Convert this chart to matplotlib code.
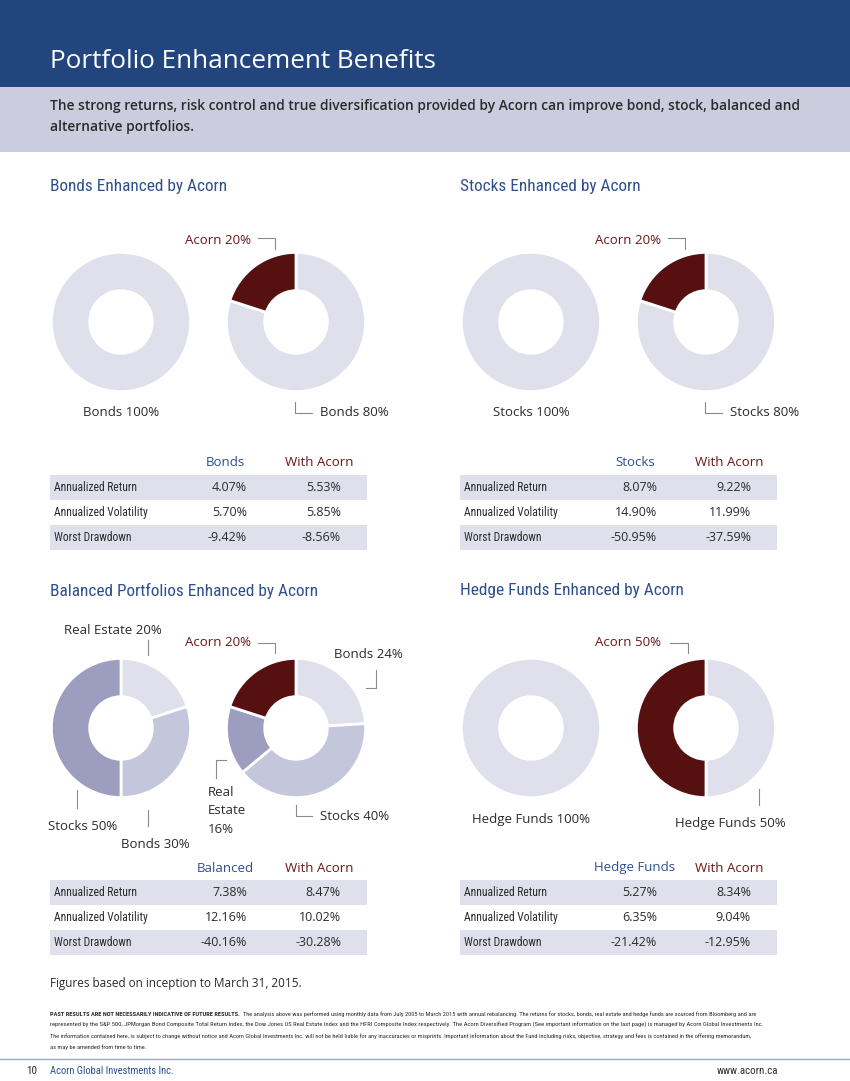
import os

import matplotlib
matplotlib.use("Agg")
import matplotlib.pyplot as plt
from matplotlib.lines import Line2D
from matplotlib.patches import Rectangle
from matplotlib import font_manager

W, H = 850, 1081

# ---- data ----
bonds_base = [100]
bonds_mix = [80, 20]            # Bonds, Acorn (clockwise from 12 o'clock)
stocks_base = [100]
stocks_mix = [80, 20]           # Stocks, Acorn
balanced_base = [20, 30, 50]    # Real Estate, Bonds, Stocks
balanced_mix = [24, 40, 16, 20]  # Bonds, Stocks, Real Estate, Acorn
hedge_base = [100]
hedge_mix = [50, 50]            # Hedge Funds, Acorn

metrics = ["Annualized Return", "Annualized Volatility", "Worst Drawdown"]
bonds_stats = [4.07, 5.70, -9.42]
bonds_acorn_stats = [5.53, 5.85, -8.56]
stocks_stats = [8.07, 14.90, -50.95]
stocks_acorn_stats = [9.22, 11.99, -37.59]
balanced_stats = [7.38, 12.16, -40.16]
balanced_acorn_stats = [8.47, 10.02, -30.28]
hedge_stats = [5.27, 6.35, -21.42]
hedge_acorn_stats = [8.34, 9.04, -12.95]

# ---- style ----
NAVY = "#21457c"
BAND = "#cbcdde"
BLUE = "#2e4f8e"
MAROON = "#55100f"
MAROON_TXT = "#6a1616"
LIGHT = "#dfe0ec"
MID = "#c4c6dc"
DARK = "#9d9ebf"
TEXT = "#2b2b2b"
LEAD = "#8a8a8a"

names = {f.name for f in font_manager.fontManager.ttflist}
SANS = "Open Sans" if "Open Sans" in names else "DejaVu Sans"
plt.rcParams["font.family"] = [SANS, "DejaVu Sans"]


def _wnum(w):
    if isinstance(w, str):
        return {"normal": 400, "regular": 400, "book": 400, "medium": 500,
                "semibold": 600, "demibold": 600, "bold": 700}.get(w.lower(), 400)
    return w


def narrow_font(weight=400):
    # look for a condensed face; the headings in the reference are condensed
    tests = [
        lambda f, b: f.name == "Liberation Sans Narrow",
        lambda f, b: "Roboto" in f.name and "Condensed" in b,
        lambda f, b: "OpenSans" in b and "Condensed" in b,
        lambda f, b: "NotoSans" in b and "Condensed" in b and "Extra" not in b and "Semi" not in b,
        lambda f, b: "DejaVuSansCondensed" in b,
    ]
    fonts = font_manager.fontManager.ttflist
    for t in tests:
        cands = [f for f in fonts if f.style == "normal" and t(f, os.path.basename(f.fname))]
        if cands:
            best = min(cands, key=lambda f: abs(_wnum(f.weight) - weight))
            return best.fname
    return None


NARROW = narrow_font(400)
NARROW_B = narrow_font(700)

fig = plt.figure(figsize=(W / 100, H / 100), dpi=100)


def fx(x):
    return x / W


def fy(y):
    return 1 - y / H


def text(x, y, s, narrow=False, bold=False, **kw):
    kw.setdefault("va", "center")
    kw.setdefault("color", TEXT)
    if narrow:
        fname = NARROW_B if bold else NARROW
        size = kw.pop("fontsize", 10)
        if fname:
            kw["fontproperties"] = font_manager.FontProperties(fname=fname, size=size)
        else:
            kw["fontsize"] = size * 0.85
            if bold:
                kw["fontweight"] = "bold"
    return fig.text(fx(x), fy(y), s, **kw)


def lead(xs, ys):
    fig.add_artist(Line2D([fx(v) for v in xs], [fy(v) for v in ys],
                          color=LEAD, lw=0.8, transform=fig.transFigure))


def rect(x, y, w, h, color):
    fig.add_artist(Rectangle((fx(x), fy(y + h)), w / W, h / H,
                             transform=fig.transFigure, color=color, lw=0))


def donut(cx, cy, values, colors, r=71):
    ax = fig.add_axes([fx(cx - r), fy(cy + r), 2 * r / W, 2 * r / H])
    ax.pie(values, colors=colors, startangle=90, counterclock=False, radius=1,
           wedgeprops=dict(width=0.55, edgecolor="white", linewidth=2))
    ax.set_xlim(-1.02, 1.02)
    ax.set_ylim(-1.02, 1.02)
    ax.set_aspect("equal")
    ax.axis("off")


def table(x0, ytop, head1, col1, col2):
    text(x0 + 175, ytop - 12, head1, ha="center", color=BLUE, fontsize=9.5)
    text(x0 + 269, ytop - 12, "With Acorn", ha="center", color=MAROON_TXT, fontsize=9.5)
    for i, (m, a, b) in enumerate(zip(metrics, col1, col2)):
        y = ytop + 25 * i
        if i % 2 == 0:
            rect(x0, y, 317, 25, LIGHT)
        text(x0 + 4, y + 12.5, m, narrow=True, fontsize=8.4)
        text(x0 + 197, y + 12.5, f"{a:.2f}%", ha="right", fontsize=9)
        text(x0 + 291, y + 12.5, f"{b:.2f}%", ha="right", fontsize=9)


def fit_width(t, target_px, renderer):
    # shrink / grow a text so that it spans target_px pixels
    w = t.get_window_extent(renderer).width
    t.set_fontsize(t.get_fontsize() * target_px / w)


# ---- header ----
rect(0, 0, W, 87, NAVY)
rect(0, 87, W, 65, BAND)
text(50, 62, "Portfolio Enhancement Benefits", color="white", fontsize=18.8)
text(50, 106, "The strong returns, risk control and true diversification provided by Acorn "
     "can improve bond, stock, balanced and", fontsize=9.9, fontweight="semibold")
text(50, 127, "alternative portfolios.", fontsize=9.9, fontweight="semibold")

# ---- top row ----
for x0, title, name, base, mix, s1, s2 in [
        (50, "Bonds Enhanced by Acorn", "Bonds", bonds_base, bonds_mix,
         bonds_stats, bonds_acorn_stats),
        (460, "Stocks Enhanced by Acorn", "Stocks", stocks_base, stocks_mix,
         stocks_stats, stocks_acorn_stats)]:
    text(x0, 187, title, narrow=True, color=BLUE, fontsize=12.4)
    cy = 322
    c1, c2 = x0 + 71, x0 + 246
    donut(c1, cy, base, [LIGHT])
    donut(c2, cy, mix, [LIGHT, MAROON])
    text(c1, cy + 90, f"{name} {base[0]}%", ha="center", fontsize=9.5)
    text(c2 - 45, cy - 81, f"Acorn {mix[1]}%", ha="right", color=MAROON_TXT, fontsize=9.5)
    lead([c2 - 38, c2 - 21, c2 - 21], [cy - 84, cy - 84, cy - 73])
    text(c2 + 24, cy + 90, f"{name} {mix[0]}%", fontsize=9.5)
    lead([c2 - 1, c2 - 1, c2 + 16], [cy + 80, cy + 91, cy + 91])
    table(x0, 475, name, s1, s2)

# ---- balanced ----
cy = 728
text(50, 591, "Balanced Portfolios Enhanced by Acorn", narrow=True, color=BLUE, fontsize=12.4)
donut(121, cy, balanced_base, [LIGHT, MID, DARK])
donut(296, cy, balanced_mix, [LIGHT, MID, DARK, MAROON])
text(113, 631, f"Real Estate {balanced_base[0]}%", ha="center", fontsize=9.5)
lead([148, 148], [640, 655])
text(83, 827, f"Stocks {balanced_base[2]}%", ha="center", fontsize=9.5)
lead([77, 77], [790, 808])
text(155, 845, f"Bonds {balanced_base[1]}%", ha="center", fontsize=9.5)
lead([148, 148], [810, 826])
text(251, 643, f"Acorn {balanced_mix[3]}%", ha="right", color=MAROON_TXT, fontsize=9.5)
lead([258, 275, 275], [643, 643, 653])
text(334, 654, f"Bonds {balanced_mix[0]}%", fontsize=9.5)
lead([376, 376, 366], [670, 688, 688])
text(208, 811, f"Real\nEstate\n{balanced_mix[2]}%", fontsize=9.5, linespacing=1.55)
lead([226, 216, 216], [760, 760, 778])
text(320, 816, f"Stocks {balanced_mix[1]}%", fontsize=9.5)
lead([296, 296, 312], [805, 816, 816])
table(50, 880, "Balanced", balanced_stats, balanced_acorn_stats)

# ---- hedge funds ----
text(460, 591, "Hedge Funds Enhanced by Acorn", narrow=True, color=BLUE, fontsize=12.4)
donut(531, cy, hedge_base, [LIGHT])
donut(706, cy, hedge_mix, [LIGHT, MAROON])
text(531, 820, f"Hedge Funds {hedge_base[0]}%", ha="center", fontsize=9.5)
text(661, 643, f"Acorn {hedge_mix[1]}%", ha="right", color=MAROON_TXT, fontsize=9.5)
lead([670, 688, 688], [643, 643, 653])
text(730, 824, f"Hedge Funds {hedge_mix[0]}%", ha="center", fontsize=9.5)
lead([759, 759], [789, 805])
table(460, 880, "Hedge Funds", hedge_stats, hedge_acorn_stats)

# ---- footer ----
text(50, 984, "Figures based on inception to March 31, 2015.", fontsize=8.5)
disclaimer = [
    "The analysis above was performed using monthly data from July 2005 to March 2015 with "
    "annual rebalancing. The returns for stocks, bonds, real estate and hedge funds are sourced "
    "from Bloomberg and are",
    "represented by the S&P 500, JPMorgan Bond Composite Total Return Index, the Dow Jones US "
    "Real Estate Index and the HFRI Composite Index respectively. The Acorn Diversified Program "
    "(See important information on the last page) is managed by Acorn Global Investments Inc.",
    "The information contained here, is subject to change without notice and Acorn Global "
    "Investments Inc. will not be held liable for any inaccuracies or misprints. Important "
    "information about the Fund including risks, objective, strategy and fees is contained in "
    "the offering memorandum,",
    "as may be amended from time to time.",
]
renderer = fig.canvas.get_renderer()
bold = text(50, 1014, "PAST RESULTS ARE NOT NECESSARILY INDICATIVE OF FUTURE RESULTS. ",
            narrow=True, bold=True, fontsize=5)
rest = text(50, 1014, disclaimer[0], narrow=True, fontsize=5)
# scale the first line (bold + regular) together to end near x = 773
wb = bold.get_window_extent(renderer).width
wr = rest.get_window_extent(renderer).width
k = 723 / (wb + wr)
bold.set_fontsize(bold.get_fontsize() * k)
rest.set_fontsize(rest.get_fontsize() * k)
rest.set_x(fx(50 + wb * k))
line2 = text(50, 1025, disclaimer[1], narrow=True, fontsize=5)
fit_width(line2, 718, renderer)
line3 = text(50, 1036, disclaimer[2], narrow=True, fontsize=5)
fit_width(line3, 722, renderer)
text(50, 1047, disclaimer[3], narrow=True, fontsize=line3.get_fontsize())

fig.add_artist(Line2D([0, 1], [fy(1059), fy(1059)], color="#9eaac8", lw=1,
                      transform=fig.transFigure))
text(26, 1071, "10", narrow=True, fontsize=8)
text(50, 1071, "Acorn Global Investments Inc.", narrow=True, color=BLUE, fontsize=7.6)
text(778, 1071, "www.acorn.ca", narrow=True, ha="right", fontsize=7.8)

fig.savefig("out.png", dpi=100)
